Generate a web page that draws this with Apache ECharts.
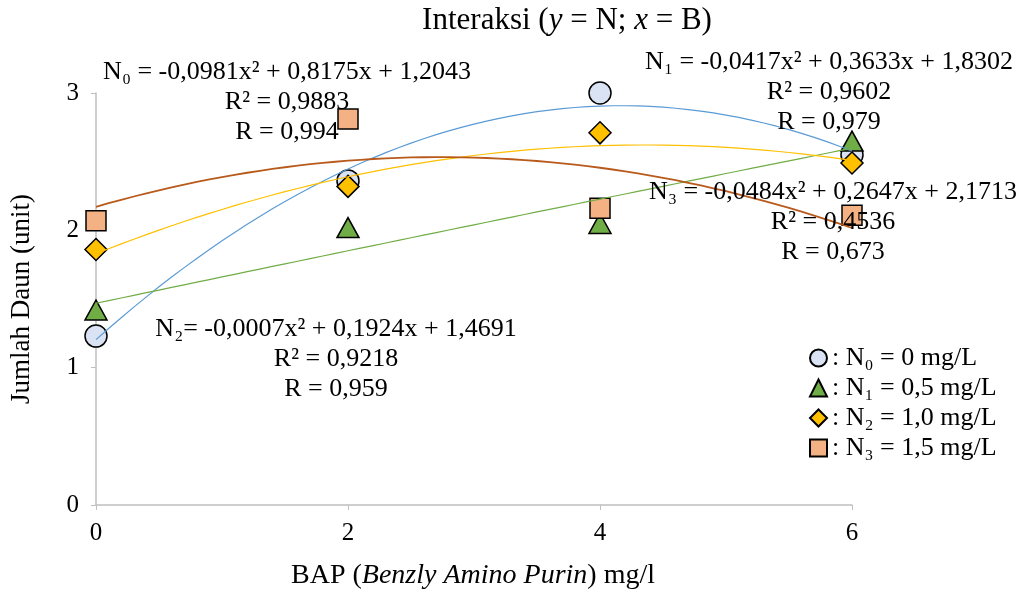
<!DOCTYPE html>
<html>
<head>
<meta charset="utf-8">
<script src="https://cdn.jsdelivr.net/npm/echarts@6/dist/echarts.min.js"></script>
<style>html,body{margin:0;padding:0;background:#fff}#c{width:1031px;height:593px}</style>
</head>
<body>
<div id="c"></div>
<script>
// ---- data ----
const xValues = [0, 2, 4, 6];
const n0Values = [1.23, 2.36, 3.00, 2.55];
const n1Values = [1.42, 2.02, 2.05, 2.65];
const n2Values = [1.86, 2.32, 2.71, 2.49];
const n3Values = [2.07, 2.81, 2.16, 2.11];
// printed trendline coefficients [a, b, c] for a*x^2 + b*x + c
const trendBlue = [-0.0981, 0.8175, 1.2043];
const trendGreen = [-0.0007, 0.1924, 1.4691];
const trendYellow = [-0.0417, 0.3633, 1.8302];
const trendOrange = [-0.0484, 0.2647, 2.1713];
const seriesNames = ['N0', 'N1', 'N2', 'N3'];
const legendLabels = [': N₀ = 0 mg/L', ': N₁ = 0,5 mg/L', ': N₂ = 1,0 mg/L', ': N₃ = 1,5 mg/L'];
const eqN0 = ['N₀ = -0,0981x² + 0,8175x + 1,2043', 'R² = 0,9883', 'R = 0,994'];
const eqN1 = ['N₁ = -0,0417x² + 0,3633x + 1,8302', 'R² = 0,9602', 'R = 0,979'];
const eqN2 = ['N₂= -0,0007x² + 0,1924x + 1,4691', 'R² = 0,9218', 'R = 0,959'];
const eqN3 = ['N₃ = -0,0484x² + 0,2647x + 2,1713', 'R² = 0,4536', 'R = 0,673'];
const yTicks = [0, 1, 2, 3];
const xTicks = [0, 2, 4, 6];

const FONT = '"Liberation Serif", "Times New Roman", serif';

function trend(coef) {
  const pts = [];
  for (let i = 0; i <= 60; i++) {
    const x = i / 10;
    pts.push([x, coef[0] * x * x + coef[1] * x + coef[2]]);
  }
  return pts;
}
function pairs(vals) { return xValues.map((x, i) => [x, vals[i]]); }

const markerBorder = { borderColor: '#000', borderWidth: 1.5 };
const scatterDefs = [
  { name: seriesNames[0], data: n0Values, symbol: 'circle', size: 22, color: '#dae3f3' },
  { name: seriesNames[1], data: n1Values, symbol: 'triangle', size: [22, 20], color: '#70ad47' },
  { name: seriesNames[2], data: n2Values, symbol: 'diamond', size: [22, 22], color: '#ffc000' },
  { name: seriesNames[3], data: n3Values, symbol: 'rect', size: [20, 20], color: '#f4b183' }
];
const lineDefs = [
  { coef: trendBlue, color: '#5b9bd5', width: 1.2 },
  { coef: trendGreen, color: '#70ad47', width: 1.2 },
  { coef: trendYellow, color: '#ffc000', width: 1.2 },
  { coef: trendOrange, color: '#b85a1c', width: 1.8 }
];

const series = [];
scatterDefs.forEach((d, i) => {
  series.push({
    name: d.name, type: 'scatter', data: pairs(d.data), symbol: d.symbol, symbolSize: d.size,
    itemStyle: Object.assign({ color: d.color, opacity: 1 }, markerBorder), z: 2 + i
  });
});
lineDefs.forEach((d, i) => {
  series.push({
    name: 'trend' + i, type: 'line', data: trend(d.coef), showSymbol: false, smooth: false,
    lineStyle: { color: d.color, width: d.width }, z: 10 + i, silent: true
  });
});

function eqText(lines, x, y) {
  return {
    type: 'text', x: x, y: y, z: 100,
    style: { text: lines.join('\n'), font: '26px ' + FONT, fill: '#000', align: 'center', verticalAlign: 'middle', lineHeight: 30 }
  };
}

const chart = echarts.init(document.getElementById('c'), null, { renderer: 'canvas' });
chart.setOption({
  backgroundColor: '#fff',
  animation: false,
  grid: { left: 96, right: 179, top: 93, bottom: 88 },
  legend: {
    data: seriesNames, orient: 'vertical', left: 804, top: 340, itemGap: 4,
    itemWidth: 17, itemHeight: 17,
    formatter: function (name) { return legendLabels[seriesNames.indexOf(name)]; },
    textStyle: { fontFamily: FONT, fontSize: 26, color: '#000', lineHeight: 26 }
  },
  xAxis: {
    type: 'value', min: 0, max: 6, interval: 2,
    axisLine: { lineStyle: { color: '#bfbfbf', width: 1.5 } },
    axisTick: { show: true, length: 5, lineStyle: { color: '#bfbfbf' } },
    splitLine: { show: false },
    axisLabel: { fontFamily: FONT, fontSize: 25, color: '#000', margin: 16,
      formatter: v => xTicks.indexOf(v) >= 0 ? String(v) : '' }
  },
  yAxis: {
    type: 'value', min: 0, max: 3, interval: 1,
    name: 'Jumlah Daun (unit)', nameLocation: 'middle', nameGap: 61,
    nameTextStyle: { fontFamily: FONT, fontSize: 27, color: '#000' },
    axisLine: { show: true, lineStyle: { color: '#bfbfbf', width: 1.5 } },
    axisTick: { show: true, length: 5, lineStyle: { color: '#bfbfbf' } },
    splitLine: { show: false },
    axisLabel: { fontFamily: FONT, fontSize: 25, color: '#000', margin: 17,
      formatter: v => yTicks.indexOf(v) >= 0 ? String(v) : '' }
  },
  graphic: [
    {
      type: 'text', x: 567, y: 21, z: 100,
      style: {
        text: '{n|Interaksi (}{i|y}{n| = N; }{i|x}{n| = B)}',
        align: 'center', verticalAlign: 'middle',
        rich: {
          n: { font: '31px ' + FONT, fill: '#000' },
          i: { font: 'italic 31px ' + FONT, fill: '#000' }
        }
      }
    },
    eqText(eqN0, 287, 102),
    eqText(eqN1, 829, 92),
    eqText(eqN2, 336, 359),
    eqText(eqN3, 833, 222),
    {
      type: 'text', x: 473, y: 576, z: 100,
      style: {
        text: '{n|BAP (}{i|Benzly Amino Purin}{n|) mg/l}',
        align: 'center', verticalAlign: 'middle',
        rich: {
          n: { font: '28px ' + FONT, fill: '#000' },
          i: { font: 'italic 28px ' + FONT, fill: '#000' }
        }
      }
    }
  ],
  series: series
});
</script>
</body>
</html>
